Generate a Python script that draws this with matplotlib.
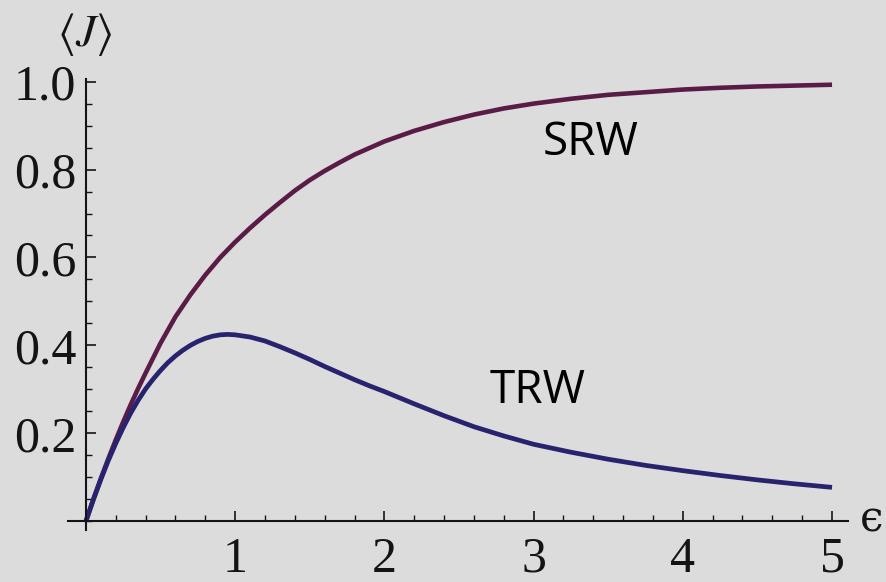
import matplotlib
matplotlib.use('Agg')
import matplotlib.pyplot as plt
from matplotlib.ticker import MultipleLocator, FixedLocator

# values
eps_srw = [0, 0.05, 0.1, 0.15, 0.2, 0.25, 0.3, 0.35, 0.4, 0.5, 0.6, 0.7, 0.8, 0.9,
           1.0, 1.1, 1.2, 1.3, 1.4, 1.5, 1.6, 1.7, 1.8, 1.9, 2.0, 2.2, 2.4, 2.6,
           2.8, 3.0, 3.25, 3.5, 3.75, 4.0, 4.25, 4.5, 4.75, 5.0]
j_srw = [0, 0.05, 0.097, 0.142, 0.185, 0.226, 0.265, 0.302, 0.337, 0.405, 0.465,
         0.515, 0.560, 0.600, 0.635, 0.667, 0.697, 0.725, 0.752, 0.776, 0.797,
         0.816, 0.834, 0.849, 0.864, 0.888, 0.908, 0.925, 0.939, 0.950, 0.961,
         0.970, 0.976, 0.982, 0.986, 0.989, 0.991, 0.993]

eps_trw = [0, 0.05, 0.1, 0.15, 0.2, 0.25, 0.3, 0.35, 0.4, 0.45, 0.5, 0.55, 0.6,
           0.65, 0.7, 0.75, 0.8, 0.85, 0.9, 0.95, 1.0, 1.1, 1.2, 1.3, 1.4, 1.5,
           1.6, 1.7, 1.8, 1.9, 2.0, 2.2, 2.4, 2.6, 2.8, 3.0, 3.25, 3.5, 3.75,
           4.0, 4.25, 4.5, 4.75, 5.0]
j_trw = [0, 0.049, 0.095, 0.138, 0.177, 0.213, 0.246, 0.275, 0.301, 0.323, 0.343,
         0.361, 0.376, 0.389, 0.400, 0.409, 0.416, 0.421, 0.424, 0.425, 0.424,
         0.419, 0.410, 0.397, 0.383, 0.368, 0.352, 0.337, 0.322, 0.308, 0.295,
         0.267, 0.240, 0.215, 0.194, 0.175, 0.157, 0.141, 0.127, 0.115, 0.104,
         0.094, 0.085, 0.077]

x_major = [1, 2, 3, 4, 5]
y_major = [0.2, 0.4, 0.6, 0.8, 1.0]

bg = '#dcdcdc'
ink = '#141414'
fig = plt.figure(figsize=(8.87, 5.82), dpi=100, facecolor=bg)
W, H = 887, 582
ax = fig.add_axes([68 / W, 1 - 530 / H, (848 - 68) / W, (530 - 79) / H])
ax.set_facecolor(bg)

ax.plot(eps_srw, j_srw, color='#5a1c46', lw=3.3, solid_capstyle='butt')
ax.plot(eps_trw, j_trw, color='#28236e', lw=3.4, solid_capstyle='butt')

ax.set_xlim(-0.12, 5.107)
ax.set_ylim(-0.02, 1.006)

for s in ['top', 'right']:
    ax.spines[s].set_visible(False)
ax.spines['left'].set_position(('data', 0))
ax.spines['bottom'].set_position(('data', 0))
for s in ['left', 'bottom']:
    ax.spines[s].set_linewidth(1.5)
    ax.spines[s].set_color(ink)

ax.xaxis.set_major_locator(FixedLocator(x_major))
ax.xaxis.set_minor_locator(MultipleLocator(0.2))
ax.yaxis.set_major_locator(FixedLocator(y_major))
ax.yaxis.set_minor_locator(MultipleLocator(0.05))
ax.set_xticklabels([str(v) for v in x_major])
ax.set_yticklabels(['%.1f' % v for v in y_major])

ax.tick_params(which='major', direction='in', length=7, width=1.2, color=ink)
ax.tick_params(which='minor', direction='in', length=4.5, width=1.0, color=ink)
ax.tick_params(axis='x', which='major', pad=11)
ax.tick_params(axis='y', which='major', pad=7)
for lab in ax.get_xticklabels() + ax.get_yticklabels():
    lab.set_fontfamily('Liberation Serif')
    lab.set_fontsize(36)
    lab.set_color(ink)

plt.rcParams['mathtext.fontset'] = 'stix'
fig.text(85 / W, 1 - 35 / H, r'$\langle J\rangle$', fontsize=33, ha='center', va='center',
         color=ink)
fig.text(872 / W, 1 - 520 / H, '\u03f5', family=['DejaVu Serif'], fontsize=30,
         ha='center', va='center', color=ink)

ax.text(3.385, 0.834, 'SRW', family='Open Sans', fontsize=33, ha='center', va='baseline')
ax.text(3.03, 0.269, 'TRW', family='Open Sans', fontsize=33, ha='center', va='baseline')

fig.savefig('out.png', dpi=100, facecolor=bg)
